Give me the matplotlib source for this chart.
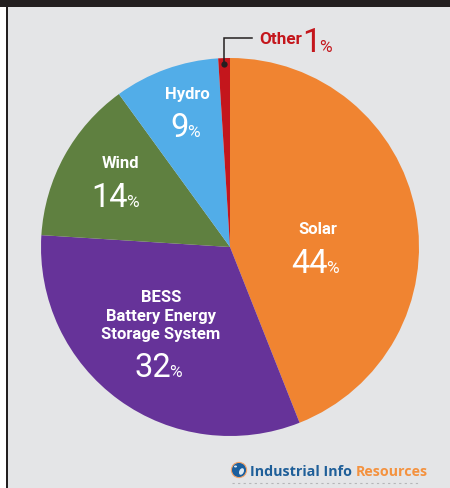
import matplotlib
matplotlib.use("Agg")
import matplotlib.pyplot as plt
from matplotlib.patches import Rectangle, Circle, Ellipse

categories = ["Solar", "BESS", "Wind", "Hydro", "Other"]
shares = [44, 32, 14, 9, 1]
slice_colors = ["#F08431", "#663399", "#5F8040", "#52ADE8", "#C4161C"]

PANEL = "#E4E5E7"
DARK = "#231F20"
RED = "#C4161C"
W, H = 450, 488
CX, CY, R = 230, 247, 189

fig = plt.figure(figsize=(W / 100, H / 100), dpi=100, facecolor="white")

# Full-figure layer measured in pixels, y running downward
bg = fig.add_axes([0, 0, 1, 1], zorder=0)
bg.set_xlim(0, W)
bg.set_ylim(H, 0)
bg.axis("off")
bg.add_patch(Rectangle((8, 7), W - 8, H - 7, fc=PANEL, ec="none"))
bg.add_patch(Rectangle((0, 0), W, 7, fc=DARK, ec="none"))
bg.add_patch(Rectangle((6, 0), 2.2, H, fc=DARK, ec="none"))

# Pie
pie_ax = fig.add_axes([(CX - R) / W, (H - CY - R) / H, 2 * R / W, 2 * R / H], zorder=1)
pie_ax.pie(shares, colors=slice_colors, startangle=90, counterclock=False, radius=1,
           wedgeprops={"linewidth": 0})
pie_ax.set_xlim(-1, 1)
pie_ax.set_ylim(-1, 1)

fg = fig.add_axes([0, 0, 1, 1], zorder=2)
fg.set_xlim(0, W)
fg.set_ylim(H, 0)
fg.axis("off")
fg.patch.set_alpha(0)


def name_label(x, y, text, color="white", size=12, ha="center"):
    fg.text(x, y, text, family="Roboto", weight="bold", fontsize=size, color=color,
            ha=ha, va="baseline")


def value_label(x_split, y, value, color="white", size=23.5, pct_size=12.5):
    """Tall figure followed by a small percent sign on the same baseline."""
    fg.text(x_split, y, str(value), family="Roboto", fontsize=size, color=color,
            ha="right", va="baseline")
    fg.text(x_split - 1.5, y, "%", family="Roboto", fontsize=pct_size, color=color,
            ha="left", va="baseline")


name_label(318, 234, categories[0])
value_label(328, 273, shares[0])

name_label(161, 302, categories[1])
name_label(161, 321, "Battery Energy")
name_label(161, 339, "Storage System")
value_label(171, 377, shares[1])

name_label(120, 168, categories[2])
value_label(128, 207, shares[2])

name_label(187.5, 99, categories[3])
value_label(189, 137, shares[3])

# Callout for the smallest slice
fg.plot([252, 224, 224], [38, 38, 64], color=DARK, lw=1.1, solid_joinstyle="miter")
fg.plot([224], [64], "o", color=DARK, ms=4.5, mew=0)
name_label(259, 44, categories[4], color=RED, size=12.3, ha="left")
value_label(320.5, 52, shares[4], color=RED, size=24)

# Publisher mark
fg.add_patch(Circle((239, 470), 7.6, fc="#1B5F9E", ec="#F4A56A", lw=0.8))
fg.add_patch(Ellipse((241.5, 471.5), 4.5, 7, angle=25, fc="#DCE8F2", ec="none"))
fg.add_patch(Ellipse((235.5, 466.5), 3, 2, fc="#DCE8F2", ec="none"))
fg.text(249.5, 475.5, "Industrial Info", family="Open Sans", weight="bold", fontsize=10.25,
        color="#1F5F99", ha="left", va="baseline")
fg.text(355.5, 475.5, "Resources", family="Open Sans", weight="bold", fontsize=10.25,
        color="#F4923F", ha="left", va="baseline")
fg.plot([232, 418], [482.5, 482.5], color="#B5B6B8", lw=0.8, ls=(0, (2, 3)))

fig.savefig("out.png", dpi=100, facecolor="white")
